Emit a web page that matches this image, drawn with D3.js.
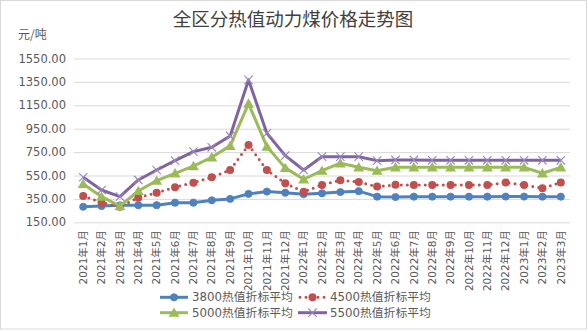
<!DOCTYPE html>
<html>
<head>
<meta charset="utf-8">
<script src="https://cdn.jsdelivr.net/npm/d3@7"></script>
<style>
html,body{margin:0;padding:0;background:#fff;}
svg{display:block;}
text{font-family:"DejaVu Sans","Noto Sans CJK SC",sans-serif;fill:#595959;}
</style>
</head>
<body>
<svg id="chart" width="588" height="332"></svg>
<script>
const months = ["2021年1月","2021年2月","2021年3月","2021年4月","2021年5月","2021年6月","2021年7月","2021年8月","2021年9月","2021年10月","2021年11月","2021年12月",
"2022年1月","2022年2月","2022年3月","2022年4月","2022年5月","2022年6月","2022年7月","2022年8月","2022年9月","2022年10月","2022年11月","2022年12月",
"2023年1月","2023年2月","2023年3月"];
const s3800 = [283,289,295,296,296,318,318,338,350,393,413,403,390,398,408,416,369,366,369,369,369,369,369,370,370,369,369];
const s4500 = [375,318,283,360,403,449,489,535,597,811,597,484,412,469,510,495,455,470,469,469,469,469,469,490,469,441,491];
const s5000 = [478,369,289,418,506,569,631,706,803,1165,797,615,518,591,655,620,591,620,620,620,620,620,620,620,620,569,620];
const s5500 = [535,426,369,512,597,677,754,791,888,1367,911,720,597,711,711,711,677,683,683,680,680,680,680,680,680,680,680];
const seriesNames = ["3800热值折标平均","4500热值折标平均","5000热值折标平均","5500热值折标平均"];
const yTicks = [150,350,550,750,950,1150,1350,1550];
const titleText = "全区分热值动力煤价格走势图";
const unitText = "元/吨";

const colors = ["#4F81BD","#C0504D","#9BBB59","#8064A2"];
const markers = ["circle","dot","triangle","cross"];
const seriesData = [s3800,s4500,s5000,s5500];

const svg = d3.select("#chart");
svg.append("rect").attr("x",0.5).attr("y",0.5).attr("width",586).attr("height",328.5)
  .attr("fill","#fff").attr("stroke","#d9d9d9").attr("stroke-width",1);

const pLeft = 74, pRight = 570, pTop = 58.5, pBottom = 222.3;
const x = d3.scalePoint().domain(months).range([pLeft, pRight]).padding(0.5);
const y = d3.scaleLinear().domain([150,1550]).range([pBottom, pTop]);

svg.append("text").attr("x",293).attr("y",18).attr("text-anchor","middle")
  .attr("dominant-baseline","central").style("font-size","18.5px")
  .style("font-family","'Noto Sans CJK SC',sans-serif").style("fill","#404040").text(titleText);
svg.append("text").attr("x",18).attr("y",33.5).attr("dominant-baseline","central")
  .style("font-size","12px").style("font-family","'Noto Sans CJK SC',sans-serif").text(unitText);

// grid + y axis
const yAxis = d3.axisLeft(y).tickValues(yTicks).tickSize(-(pRight-pLeft)).tickPadding(7)
  .tickFormat(d3.format(".2f"));
const gy = svg.append("g").attr("transform",`translate(${pLeft},0)`).call(yAxis);
gy.select(".domain").remove();
gy.selectAll(".tick line").attr("stroke","#d9d9d9").attr("stroke-width",1);
gy.selectAll(".tick text").style("font-size","11.5px").style("fill","#595959").attr("x",-8);

// x labels
const gx = svg.append("g");
gx.selectAll("text").data(months).enter().append("text")
  .attr("transform",d=>`translate(${x(d)},230) rotate(-90)`)
  .attr("text-anchor","end").attr("dy","0.35em")
  .style("font-size","10.5px").text(d=>d);

const line = d3.line().x((d,i)=>x(months[i])).y(d=>y(d));

function drawMarker(g, type, color, cx, cy){
  if(type==="circle"){
    g.append("circle").attr("cx",cx).attr("cy",cy).attr("r",3.6).attr("fill",color).attr("stroke",color).attr("stroke-width",0.8);
  } else if(type==="dot"){
    g.append("circle").attr("cx",cx).attr("cy",cy).attr("r",4).attr("fill",color);
  } else if(type==="triangle"){
    const s=5.2;
    g.append("path").attr("d",`M${cx},${cy-s} L${cx+s*1.05},${cy+s*0.8} L${cx-s*1.05},${cy+s*0.8}Z`).attr("fill",color);
  } else {
    const s=4.2;
    g.append("path").attr("d",`M${cx-s},${cy-s}L${cx+s},${cy+s}M${cx-s},${cy+s}L${cx+s},${cy-s}`)
      .attr("stroke",color).attr("stroke-width",1.1).attr("fill","none");
  }
}

seriesData.forEach((data,k)=>{
  const g = svg.append("g");
  const p = g.append("path").datum(data).attr("d",line).attr("fill","none")
    .attr("stroke",colors[k]).attr("stroke-width",3).attr("stroke-linejoin","round");
  if(k===1){ p.attr("stroke-dasharray","0 6").attr("stroke-linecap","round"); }
  data.forEach((v,i)=>drawMarker(g, markers[k], k===3?"#9a86bd":colors[k], x(months[i]), y(v)));
});

// legend
const legendItems = [
  {k:0, x0:160, x1:188, tx:192, ty:297.3},
  {k:1, x0:299, x1:326, tx:330, ty:297.3},
  {k:2, x0:160, x1:188, tx:192, ty:312.7},
  {k:3, x0:298, x1:327, tx:330, ty:312.7}
];
legendItems.forEach(it=>{
  const g = svg.append("g");
  const l = g.append("line").attr("x1",it.x0).attr("x2",it.x1).attr("y1",it.ty).attr("y2",it.ty)
    .attr("stroke",colors[it.k]).attr("stroke-width",3);
  if(it.k===1){ l.attr("stroke-dasharray","0 6").attr("stroke-linecap","round").attr("x1",it.x0+1); }
  drawMarker(g, markers[it.k], it.k===3?"#9a86bd":colors[it.k], (it.x0+it.x1)/2, it.ty);
  g.append("text").attr("x",it.tx).attr("y",it.ty).attr("dominant-baseline","central")
    .style("font-size","11.8px").text(seriesNames[it.k]);
});
</script>
</body>
</html>
